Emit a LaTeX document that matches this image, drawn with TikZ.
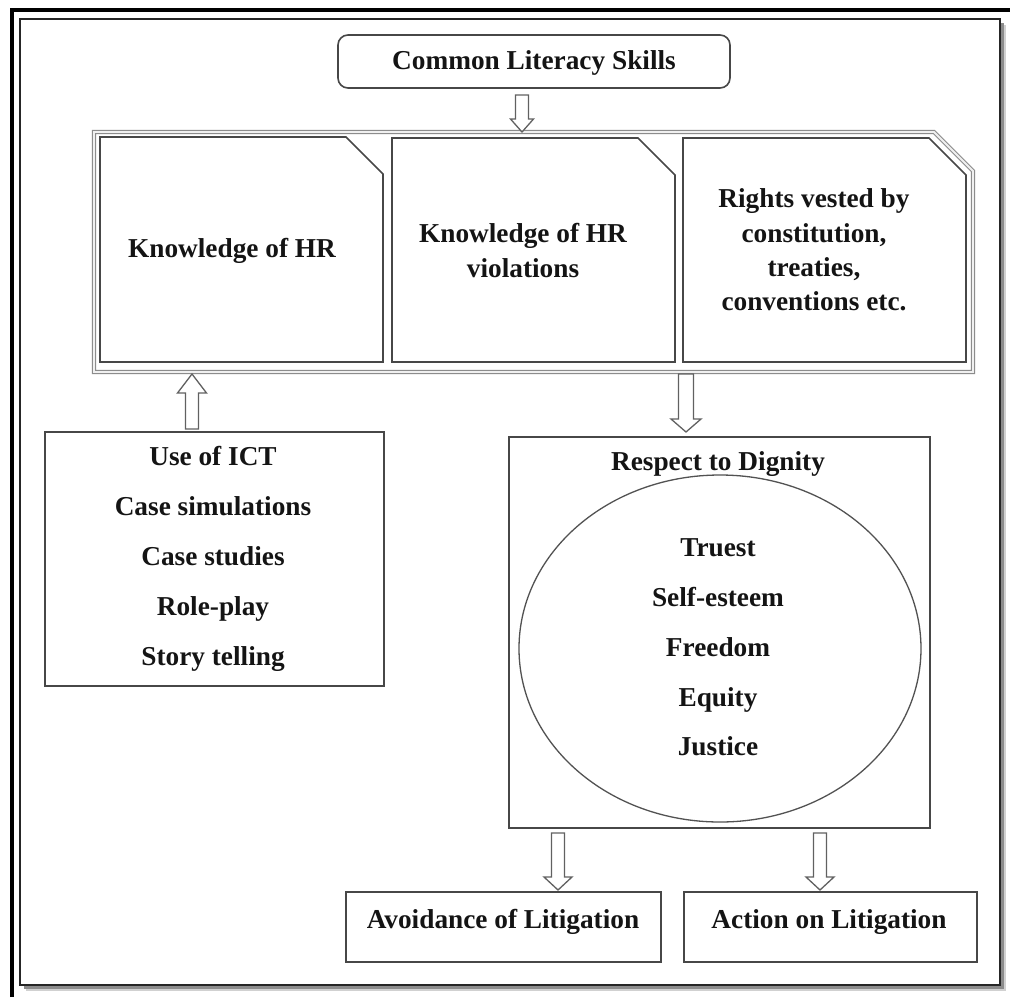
\documentclass[tikz,border=0pt]{standalone}
\usepackage{fontspec}
\setmainfont{Liberation Serif}
\usetikzlibrary{calc,shapes.geometric}

\tikzset{
  lbl/.style={font=\fontsize{27.3}{33}\selectfont\bfseries, inner sep=0pt, anchor=base, text=black!92},
  boxline/.style={draw=black!72, line width=1.6pt, line join=miter},
  area/.style={inner sep=0pt, outer sep=0pt},
  blockarrow/.style={draw=black!62, line width=1.3pt, fill=white, line join=miter},
  groupline/.style={draw=black!45, line width=1.2pt, double=black!6, double distance=1.8pt, line join=miter},
}

% hollow block arrow: tail, tip, shaft half width, head half width, head length
\newcommand\hollowarrow[5]{%
  \coordinate (hb) at ($(#2)!#5!(#1)$);
  \draw[blockarrow]
    ($(#1)!#3!90:(#2)$) -- ($(hb)!#3!90:(#2)$) -- ($(hb)!#4!90:(#2)$) -- (#2)
    -- ($(hb)!#4!-90:(#2)$) -- ($(hb)!#3!-90:(#2)$) -- ($(#1)!#3!-90:(#2)$) -- cycle;}

% box with its north-east corner cut off
\newcommand\cutbox[3]{% node, cut, style
  \draw[#3] (#1.south west) -- (#1.north west) -- ([xshift=-#2]#1.north east)
    -- ([yshift=-#2]#1.north east) -- (#1.south east) -- cycle;}

\begin{document}
\begin{tikzpicture}[x=1pt, y=-1pt]
\useasboundingbox (0,0) rectangle (1010,997);
\fill[white] (0,0) rectangle (1010,997);

% page frame with its shadow
\node[area, minimum width=980pt, minimum height=966pt] (frame) at (510,502) {};
\fill[black!18] ([shift={(6pt,-6pt)}]frame.south west) rectangle ([shift={(6pt,-6pt)}]frame.north east);
\fill[black!45] ([shift={(3.5pt,-3.5pt)}]frame.south west) rectangle ([shift={(3.5pt,-3.5pt)}]frame.north east);
\fill[white] (frame.south west) rectangle (frame.north east);
\draw[black!85, line width=2.6pt] (frame.south west) rectangle (frame.north east);
\draw[black, line width=4pt] (11.5,997) -- (11.5,10) -- (1010,10);

% top box
\node[area, minimum width=392pt, minimum height=53pt, rounded corners=10pt, boxline] (cls) at (534,61.5) {};
\node[lbl] (clst) at (534,69) {Common Literacy Skills};

% group of the three knowledge boxes
\node[area, minimum width=879pt, minimum height=240pt] (cont) at (533.5,252) {};
\cutbox{cont}{39pt}{groupline}

\node[area, minimum width=283pt, minimum height=225pt] (k1) at (241.5,249.5) {};
\node[area, minimum width=283pt, minimum height=224pt] (k2) at (533.5,250) {};
\node[area, minimum width=283pt, minimum height=224pt] (k3) at (824.5,250) {};
\cutbox{k1}{37pt}{boxline}
\cutbox{k2}{37pt}{boxline}
\cutbox{k3}{37pt}{boxline}

\node[lbl] (k1a) at (232,257) {Knowledge of HR};
\node[lbl] (k2a) at (523,242) {Knowledge of HR};
\node[lbl] (k2b) at (523,277) {violations};
\node[lbl] (k3a) at (814,207) {Rights vested by};
\node[lbl] (k3b) at (814,242) {constitution,};
\node[lbl] (k3c) at (814,276) {treaties,};
\node[lbl] (k3d) at (814,310) {conventions etc.};

% teaching methods
\node[area, minimum width=339pt, minimum height=254pt, boxline] (lbox) at (214.5,559) {};
\node[lbl] (m1) at (213,465) {Use of ICT};
\node[lbl] (m2) at (213,515) {Case simulations};
\node[lbl] (m3) at (213,565) {Case studies};
\node[lbl] (m4) at (213,615) {Role-play};
\node[lbl] (m5) at (213,665) {Story telling};

% respect to dignity
\node[area, minimum width=421pt, minimum height=391pt, boxline] (resp) at (719.5,632.5) {};
\node[lbl] (respt) at (718,470) {Respect to Dignity};
\node[ellipse, area, minimum width=402pt, minimum height=347pt, draw=black!68, line width=1.3pt] (oval) at (720,648.5) {};
\node[lbl] (v1) at (718,556) {Truest};
\node[lbl] (v2) at (718,606) {Self-esteem};
\node[lbl] (v3) at (718,656) {Freedom};
\node[lbl] (v4) at (718,706) {Equity};
\node[lbl] (v5) at (718,755) {Justice};

% outcomes
\node[area, minimum width=315pt, minimum height=70pt, boxline] (avoid) at (503.5,927) {};
\node[lbl] (avoidt) at (503,928) {Avoidance of Litigation};
\node[area, minimum width=293pt, minimum height=70pt, boxline] (act) at (830.5,927) {};
\node[lbl] (actt) at (829,928) {Action on Litigation};

% arrows
\coordinate (aT) at ([xshift=-12pt,yshift=-7pt]cls.south);
\coordinate (aH) at (aT |- cont.north);
\hollowarrow{aT}{aH}{6.5pt}{11.5pt}{13pt}

\coordinate (bT) at ([xshift=-22.5pt,yshift=3pt]lbox.north);
\coordinate (bH) at ([yshift=-2pt]bT |- cont.south);
\hollowarrow{bT}{bH}{6.5pt}{14.5pt}{19pt}

\coordinate (cH) at ([xshift=-33.5pt,yshift=5pt]resp.north);
\coordinate (cT) at ([yshift=-2pt]cH |- cont.south);
\hollowarrow{cT}{cH}{7.5pt}{15pt}{13pt}

\coordinate (dT) at ([xshift=-161.5pt,yshift=-5pt]resp.south);
\coordinate (dH) at ([yshift=2pt]dT |- avoid.north);
\hollowarrow{dT}{dH}{6.5pt}{14pt}{13pt}

\coordinate (eT) at ([xshift=100.5pt,yshift=-5pt]resp.south);
\coordinate (eH) at ([yshift=2pt]eT |- act.north);
\hollowarrow{eT}{eH}{6.5pt}{14pt}{13pt}
\end{tikzpicture}
\end{document}
